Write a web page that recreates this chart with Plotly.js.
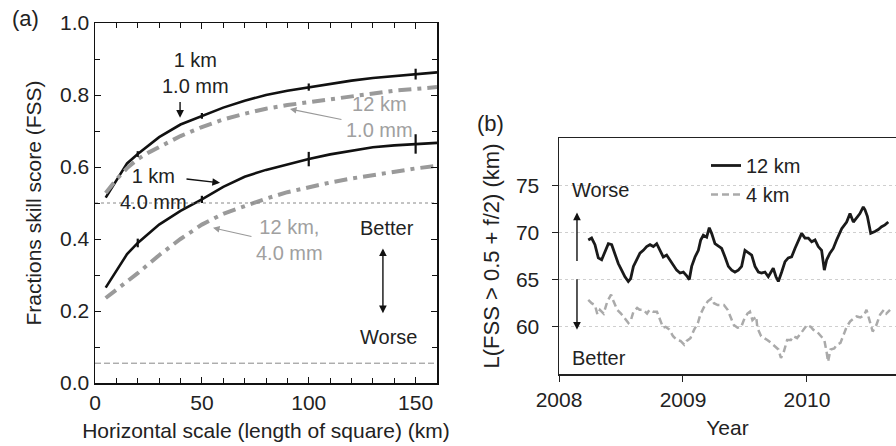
<!DOCTYPE html>
<html>
<head>
<meta charset="utf-8">
<script src="https://cdn.plot.ly/plotly-3.0.1.min.js"></script>
<style>html,body{margin:0;padding:0;background:#fff;}#chart{width:896px;height:446px;}</style>
</head>
<body>
<div id="chart"></div>
<script>
// ---------- Panel (a): FSS vs horizontal scale ----------
const scaleKm = [5, 10, 15, 20, 25, 30, 40, 50, 60, 70, 80, 90, 100, 110, 120, 130, 140, 150, 160];
const fss1km1mm  = [0.515, 0.563, 0.610, 0.636, 0.660, 0.683, 0.718, 0.742, 0.765, 0.784, 0.800, 0.812, 0.822, 0.832, 0.840, 0.847, 0.853, 0.858, 0.863];
const fss12km1mm = [0.528, 0.565, 0.597, 0.622, 0.640, 0.655, 0.686, 0.711, 0.732, 0.748, 0.762, 0.772, 0.780, 0.790, 0.798, 0.805, 0.812, 0.817, 0.822];
const fss1km4mm  = [0.265, 0.312, 0.358, 0.389, 0.415, 0.440, 0.478, 0.510, 0.545, 0.573, 0.592, 0.608, 0.622, 0.635, 0.646, 0.655, 0.660, 0.664, 0.667];
const fss12km4mm = [0.236, 0.258, 0.282, 0.305, 0.330, 0.355, 0.400, 0.440, 0.470, 0.492, 0.512, 0.530, 0.544, 0.557, 0.568, 0.578, 0.587, 0.596, 0.603];
const errScale = [20, 50, 100, 150];
const err1mmVal = [0.636, 0.742, 0.822, 0.858];
const err1mmErr = [0.008, 0.008, 0.010, 0.015];
const err4mmVal = [0.389, 0.510, 0.622, 0.664];
const err4mmErr = [0.012, 0.010, 0.020, 0.027];
const refLevels = [0.5, 0.055];
const refRange = [0, 160];

// ---------- Panel (b): L(FSS > 0.5 + f/2) time series ----------
const year12 = [2008.236,2008.263,2008.290,2008.317,2008.344,2008.371,2008.398,2008.425,2008.452,2008.478,2008.505,2008.532,2008.559,2008.578,2008.600,2008.626,2008.653,2008.680,2008.707,2008.734,2008.761,2008.788,2008.815,2008.841,2008.868,2008.895,2008.922,2008.949,2008.976,2009.003,2009.030,2009.051,2009.070,2009.097,2009.124,2009.143,2009.164,2009.191,2009.212,2009.231,2009.258,2009.285,2009.312,2009.339,2009.366,2009.393,2009.419,2009.446,2009.473,2009.500,2009.527,2009.554,2009.581,2009.608,2009.634,2009.661,2009.688,2009.715,2009.728,2009.750,2009.769,2009.796,2009.823,2009.849,2009.876,2009.903,2009.930,2009.957,2009.984,2010.011,2010.038,2010.065,2010.091,2010.118,2010.140,2010.159,2010.185,2010.212,2010.239,2010.266,2010.280,2010.320,2010.347,2010.374,2010.401,2010.427,2010.454,2010.468,2010.487,2010.514,2010.548,2010.575,2010.602,2010.629,2010.656];
const len12 = [69.2,69.4,68.7,67.3,67.1,68.0,68.8,68.7,67.6,66.7,66.0,65.3,64.8,65.1,66.4,67.1,67.8,68.1,68.5,68.7,68.5,68.8,68.1,67.4,67.6,67.1,66.5,66.0,65.7,65.8,65.4,65.0,66.4,67.4,68.1,69.2,69.7,69.5,70.5,69.9,68.8,68.5,68.3,67.4,66.4,66.0,65.8,66.0,66.4,68.1,67.8,67.6,66.4,65.8,65.7,65.8,65.3,66.0,66.2,65.3,64.8,65.8,66.9,67.3,67.4,68.3,69.2,69.9,69.4,69.4,69.0,69.2,68.5,68.1,66.0,67.1,67.8,68.3,69.2,69.9,70.4,71.1,72.0,71.1,71.5,72.0,72.7,72.4,71.7,69.9,70.1,70.3,70.6,70.8,71.1];
const year4 = [2008.236,2008.263,2008.290,2008.310,2008.330,2008.360,2008.390,2008.420,2008.440,2008.470,2008.500,2008.530,2008.560,2008.580,2008.600,2008.630,2008.650,2008.680,2008.710,2008.730,2008.760,2008.790,2008.810,2008.840,2008.860,2008.890,2008.920,2008.950,2008.980,2009.010,2009.030,2009.060,2009.090,2009.120,2009.140,2009.170,2009.200,2009.230,2009.250,2009.280,2009.310,2009.330,2009.360,2009.390,2009.410,2009.440,2009.470,2009.490,2009.520,2009.540,2009.560,2009.590,2009.600,2009.630,2009.660,2009.680,2009.710,2009.740,2009.770,2009.790,2009.810,2009.840,2009.870,2009.890,2009.920,2009.950,2009.970,2010.000,2010.030,2010.050,2010.080,2010.110,2010.140,2010.160,2010.170,2010.190,2010.220,2010.240,2010.270,2010.300,2010.320,2010.350,2010.380,2010.400,2010.430,2010.460,2010.480,2010.500,2010.530,2010.560,2010.590,2010.620,2010.640,2010.670];
const len4 = [62.85,62.5,62.3,61.3,61.8,61.4,62.7,63.4,62.7,61.8,61.4,60.9,60.4,60.7,61.6,62.0,61.8,61.8,61.4,61.8,61.6,61.6,60.9,59.9,60.0,59.7,59.0,58.6,58.5,58.1,58.5,58.8,59.7,60.4,61.3,62.1,62.7,63.0,62.5,62.3,62.3,62.3,61.8,60.7,60.2,59.9,60.0,60.7,61.4,61.6,60.7,61.1,59.9,59.0,58.8,58.6,58.3,57.9,57.6,56.7,57.2,58.6,58.6,59.0,58.8,59.3,59.7,60.2,60.0,59.7,59.5,59.0,58.6,57.2,56.3,57.6,57.7,58.1,58.3,59.3,60.0,60.6,60.9,61.1,61.0,61.2,61.8,60.9,59.5,60.2,61.3,61.8,61.4,61.8];
const yearTicks = [2008, 2009, 2010];
const lenTicks = [60, 65, 70, 75];

const FONT = 'Liberation Sans, Arial, Helvetica, sans-serif';
const TXT = '#222';
const GRAY = '#9a9a9a';

const traces = [];
[fss1km1mm, fss1km4mm].forEach(v => traces.push({
  x: scaleKm, y: v, type: 'scatter', mode: 'lines', xaxis: 'x', yaxis: 'y',
  line: {color: '#111', width: 2.6}, showlegend: false, hoverinfo: 'skip'
}));
[fss12km1mm, fss12km4mm].forEach(v => traces.push({
  x: scaleKm, y: v, type: 'scatter', mode: 'lines', xaxis: 'x', yaxis: 'y',
  line: {color: GRAY, width: 4, dash: '13px,6px,4px,6px'}, showlegend: false, hoverinfo: 'skip'
}));
[[err1mmVal, err1mmErr], [err4mmVal, err4mmErr]].forEach(p => traces.push({
  x: errScale, y: p[0], type: 'scatter', mode: 'markers', xaxis: 'x', yaxis: 'y',
  marker: {size: 1, opacity: 0},
  error_y: {type: 'data', array: p[1], visible: true, color: '#111', thickness: 2.2, width: 0},
  showlegend: false, hoverinfo: 'skip'
}));
refLevels.forEach((lv, i) => traces.push({
  x: refRange, y: [lv, lv], type: 'scatter', mode: 'lines', xaxis: 'x', yaxis: 'y',
  line: {color: '#888', width: 1, dash: i === 0 ? '3px,3px' : '6px,3px'}, showlegend: false, hoverinfo: 'skip'
}));
traces.push({
  x: year12, y: len12, name: '12 km', type: 'scatter', mode: 'lines', xaxis: 'x2', yaxis: 'y2',
  line: {color: '#1a1a1a', width: 2.8}
});
traces.push({
  x: year4, y: len4, name: '4 km', type: 'scatter', mode: 'lines', xaxis: 'x2', yaxis: 'y2',
  line: {color: '#aaaaaa', width: 2.5, dash: '7px,4px'}
});

const fs = 21;
const fa = 20;
function txt(x, y, t, color, xref, yref, extra) {
  return Object.assign({x: x, y: y, xref: xref || 'x', yref: yref || 'y', text: t, showarrow: false,
    xanchor: 'center', yanchor: 'middle',
    font: {family: FONT, size: fa, color: color || TXT}}, extra || {});
}
function arrow(x, y, ax, ay, color, xref, yref, extra) {
  return Object.assign({x: x, y: y, ax: ax, ay: ay, xref: xref || 'x', yref: yref || 'y',
    axref: xref || 'x', ayref: yref || 'y', text: '', showarrow: true,
    arrowhead: 2, arrowsize: 1.1, arrowwidth: 1.4, arrowcolor: color || '#111'}, extra || {});
}

const annotations = [
  txt(47, 0.860, '1 km<br>1.0 mm'),
  arrow(39.8, 0.737, 39.8, 0.785),
  txt(133, 0.738, '12 km<br>1.0 mm', '#a0a0a0'),
  arrow(91.2, 0.761, 116, 0.731, '#999', 'x', 'y', {arrowwidth: 1.2}),
  txt(27.5, 0.540, '1 km<br>4.0 mm'),
  arrow(58.5, 0.556, 42.1, 0.567),
  txt(91.2, 0.398, '12 km,<br>4.0 mm', '#a0a0a0'),
  arrow(55.2, 0.431, 73.9, 0.406, '#999', 'x', 'y', {arrowwidth: 1.2}),
  txt(136.6, 0.431, 'Better'),
  txt(137.5, 0.128, 'Worse'),
  arrow(134.7, 0.194, 134.7, 0.378, '#111', 'x', 'y', {arrowside: 'end+start'}),
  txt(25/896, 1 - 18/446, '(a)', TXT, 'paper', 'paper', {font: {family: FONT, size: 22, color: TXT}}),
  txt(490/896, 1 - 123/446, '(b)', TXT, 'paper', 'paper', {font: {family: FONT, size: 22, color: TXT}}),
  txt(2008.085, 74.5, 'Worse', TXT, 'x2', 'y2', {xanchor: 'left'}),
  txt(2008.085, 56.7, 'Better', TXT, 'x2', 'y2', {xanchor: 'left'}),
  arrow(2008.145, 72.1, 2008.145, 66.8, '#111', 'x2', 'y2'),
  arrow(2008.145, 59.7, 2008.145, 65.2, '#111', 'x2', 'y2')
];

const axA = {
  showline: true, linecolor: '#111', linewidth: 1.5, mirror: 'allticks',
  ticks: 'inside', ticklen: 6, tickcolor: '#111', tickwidth: 1,
  showgrid: false, zeroline: false,
  tickfont: {family: FONT, size: fs, color: TXT}
};

const layout = {
  width: 896, height: 446,
  margin: {l: 0, r: 0, t: 0, b: 0},
  paper_bgcolor: '#fff', plot_bgcolor: '#fff',
  font: {family: FONT, size: fs, color: TXT},
  showlegend: true,
  legend: {x: 706/896, y: 1 - 146/446, xanchor: 'left', yanchor: 'top', bgcolor: 'rgba(0,0,0,0)',
    font: {family: FONT, size: fa, color: TXT}, itemwidth: 30, tracegroupgap: 0},
  xaxis: Object.assign({}, axA, {
    domain: [95/896, 437/896], range: [0, 160], tickvals: [0, 50, 100, 150],
    minor: {tickvals: [10,20,30,40,60,70,80,90,110,120,130,140], ticks: 'inside', ticklen: 5, tickcolor: '#111'},
    anchor: 'y',
    title: {text: 'Horizontal scale (length of square) (km)', font: {family: FONT, size: fs, color: TXT}, standoff: 10}
  }),
  yaxis: Object.assign({}, axA, {
    domain: [1 - 383/446, 1 - 23/446], range: [0, 1], tickvals: [0, 0.2, 0.4, 0.6, 0.8, 1.0],
    ticktext: ['0.0', '0.2', '0.4', '0.6', '0.8', '1.0'],
    minor: {tickvals: [0.1, 0.3, 0.5, 0.7, 0.9], ticks: 'inside', ticklen: 5, tickcolor: '#111'},
    anchor: 'x',
    title: {text: 'Fractions skill score (FSS)', font: {family: FONT, size: fs, color: TXT}, standoff: 12}
  }),
  xaxis2: {
    domain: [559/896, 1], range: [2008, 2010.718], tickvals: yearTicks, ticktext: yearTicks.map(String),
    showline: true, linecolor: '#222', linewidth: 1.5, mirror: true,
    ticks: 'outside', ticklen: 6, tickcolor: '#222', showgrid: false, zeroline: false,
    tickfont: {family: FONT, size: fs, color: TXT}, anchor: 'y2',
    title: {text: 'Year', font: {family: FONT, size: fs, color: TXT}, standoff: 10}
  },
  yaxis2: {
    domain: [1 - 374/446, 1 - 138/446], range: [55, 80], tickvals: lenTicks,
    showline: true, linecolor: '#222', linewidth: 1.5,
    ticks: 'outside', ticklen: 6, tickcolor: '#222', ticklabelstandoff: 8,
    showgrid: true, gridcolor: '#cfcfcf', griddash: 'dot', gridwidth: 1, zeroline: false,
    tickfont: {family: FONT, size: fs, color: TXT}, anchor: 'x2',
    title: {text: 'L(FSS > 0.5 + f/2) (km)', font: {family: FONT, size: 22, color: TXT}, standoff: 10}
  },
  annotations: annotations
};

Plotly.newPlot('chart', traces, layout, {displayModeBar: false, staticPlot: true});
</script>
</body>
</html>
